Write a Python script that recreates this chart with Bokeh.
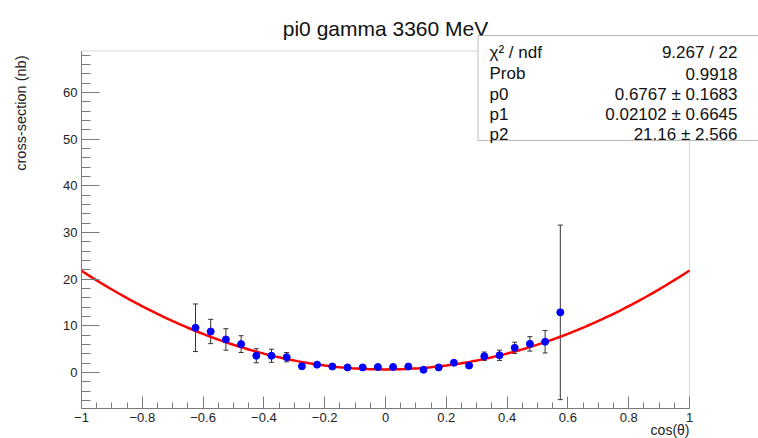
import numpy as np
from bokeh.plotting import figure
from bokeh.models import ColumnDataSource, Whisker, Label, BoxAnnotation, FixedTicker, Range1d
from bokeh.models import TeeHead
from bokeh.embed import file_html
from bokeh.resources import INLINE

# ---- data ----
cos_theta = [-0.625, -0.575, -0.525, -0.475, -0.425, -0.375, -0.325, -0.275, -0.225, -0.175,
             -0.125, -0.075, -0.025, 0.025, 0.075, 0.125, 0.175, 0.225, 0.275, 0.325,
             0.375, 0.425, 0.475, 0.525, 0.575]
xsec = [9.6, 8.8, 7.1, 6.1, 3.6, 3.6, 3.3, 1.35, 1.7, 1.3,
        1.1, 1.1, 1.2, 1.2, 1.3, 0.6, 1.1, 2.1, 1.5, 3.5,
        3.7, 5.3, 6.15, 6.6, 12.9]
xsec_err = [5.1, 2.6, 2.3, 1.8, 1.5, 1.4, 1.0, 0.5, 0.4, 0.4,
            0.3, 0.3, 0.3, 0.3, 0.3, 0.3, 0.3, 0.5, 0.5, 0.9,
            1.1, 1.2, 1.55, 2.4, 18.7]

# fit parameters (pol2)
p0, p1, p2 = 0.6767, 0.02102, 21.16

stat_names = ["\u03c7\u00b2 / ndf", "Prob", "p0", "p1", "p2"]
stat_values = ["9.267 / 22", "0.9918", "0.6767 \u00b1 0.1683", "0.02102 \u00b1 0.6645", "21.16 \u00b1 2.566"]

x_ticks = [-1, -0.8, -0.6, -0.4, -0.2, 0, 0.2, 0.4, 0.6, 0.8, 1]
x_tick_labels = ["\u22121", "\u22120.8", "\u22120.6", "\u22120.4", "\u22120.2", "0", "0.2", "0.4", "0.6", "0.8", "1"]
y_ticks = [0, 10, 20, 30, 40, 50, 60]
y_tick_labels = ["0", "10", "20", "30", "40", "50", "60"]

title_text = "pi0 gamma 3360 MeV"
x_title = "cos(\u03b8)"
y_title = "cross-section (nb)"

# axis (frame) limits
x_lo, x_hi = -1.0, 1.0
y_lo, y_hi = -7.7, 68.9

# ---- layout (pixels of the 758x438 canvas) ----
W, H = 758, 438
FL, FR, FT, FB = 81, 689, 50.5, 408   # frame left/right/top/bottom in canvas px
sx = (FR - FL) / (x_hi - x_lo)
sy = (FB - FT) / (y_hi - y_lo)
view_x = Range1d(x_lo - FL / sx, x_hi + (W - FR) / sx)
view_y = Range1d(y_lo - (H - FB) / sy, y_hi + FT / sy)

p = figure(width=W, height=H, output_backend="svg", toolbar_location=None,
           x_range=view_x, y_range=view_y,
           min_border_left=0, min_border_right=0, min_border_top=0, min_border_bottom=0)
p.background_fill_color = "white"
p.border_fill_color = "white"
p.outline_line_color = None
p.xgrid.visible = False
p.ygrid.visible = False

font = "Liberation Sans"
frame_col = "#7a7a7a"
for ax in (p.xaxis[0], p.yaxis[0]):
    ax.axis_line_color = frame_col
    ax.major_tick_line_color = frame_col
    ax.minor_tick_line_color = frame_col
    ax.major_tick_out = 0
    ax.minor_tick_out = 0
    ax.major_label_text_font = font
    ax.major_label_text_font_size = "13px"
    ax.major_label_text_color = "#222222"

xa = p.xaxis[0]
xa.fixed_location = y_lo
xa.bounds = (x_lo, x_hi)
xa.ticker = FixedTicker(ticks=x_ticks, minor_ticks=[round(-1 + 0.05 * i, 3) for i in range(41)])
xa.major_label_overrides = {t: l for t, l in zip(x_ticks, x_tick_labels)}
xa.major_tick_in = 12
xa.minor_tick_in = 6
xa.major_label_standoff = 4

ya = p.yaxis[0]
ya.fixed_location = x_lo
ya.bounds = (y_lo, y_hi)
ya.ticker = FixedTicker(ticks=y_ticks, minor_ticks=list(range(-6, 69, 2)))
ya.major_label_overrides = {t: l for t, l in zip(y_ticks, y_tick_labels)}
ya.major_tick_in = 18
ya.minor_tick_in = 9
ya.major_label_standoff = 4

# frame box
p.add_layout(BoxAnnotation(left=x_lo, right=x_hi, bottom=y_lo, top=y_hi,
                           fill_color=None, line_color=frame_col, line_width=1, level="underlay"))

# fit curve
xf = np.linspace(x_lo, x_hi, 201)
yf = p0 + p1 * xf + p2 * xf ** 2
p.line(xf, yf, line_color="#ff0000", line_width=2.5)

# data with error bars
src = ColumnDataSource(dict(x=cos_theta, y=xsec,
                            lo=[v - e for v, e in zip(xsec, xsec_err)],
                            hi=[v + e for v, e in zip(xsec, xsec_err)]))
wk = Whisker(source=src, base="x", upper="hi", lower="lo", line_color="#333333", line_width=1,
             upper_head=TeeHead(size=5, line_color="#333333", line_width=1),
             lower_head=TeeHead(size=5, line_color="#333333", line_width=1))
p.add_layout(wk)
p.scatter("x", "y", source=src, size=7, fill_color="#0000ff", line_color="#0000ff")

# title and axis titles (screen units, y measured from bottom of canvas)
p.add_layout(Label(x=385, y=H - 28, x_units="screen", y_units="screen",
                   text=title_text, text_font=font, text_font_size="21px",
                   text_align="center", text_baseline="alphabetic", text_color="#111111"))
p.add_layout(Label(x=FR, y=H - 429, x_units="screen", y_units="screen",
                   text=x_title, text_font=font, text_font_size="14px",
                   text_align="right", text_baseline="middle", text_color="#222222"))
p.add_layout(Label(x=20, y=H - 55, x_units="screen", y_units="screen",
                   text=y_title, text_font=font, text_font_size="14.5px", angle=np.pi / 2,
                   text_align="right", text_baseline="middle", text_color="#222222"))

# stats box
bl, br, bt, bb = 477.5, 765, 35, 140
p.add_layout(BoxAnnotation(left=bl, right=br, top=H - bt, bottom=H - bb,
                           left_units="screen", right_units="screen",
                           top_units="screen", bottom_units="screen",
                           fill_color="white", fill_alpha=1.0, line_color="#222222",
                           line_width=1, level="overlay"))
baselines = [51.5, 73, 93.5, 114, 134]
for name, val, b in zip(stat_names, stat_values, baselines):
    p.add_layout(Label(x=489, y=H - b, x_units="screen", y_units="screen",
                       text=name, text_font=font, text_font_size="17px",
                       text_align="left", text_baseline="alphabetic", text_color="#111111",
                       level="overlay"))
    p.add_layout(Label(x=737, y=H - b, x_units="screen", y_units="screen",
                       text=val, text_font=font, text_font_size="17px",
                       text_align="right", text_baseline="alphabetic", text_color="#111111",
                       level="overlay"))

open("out.html", "w").write(file_html(p, INLINE))
